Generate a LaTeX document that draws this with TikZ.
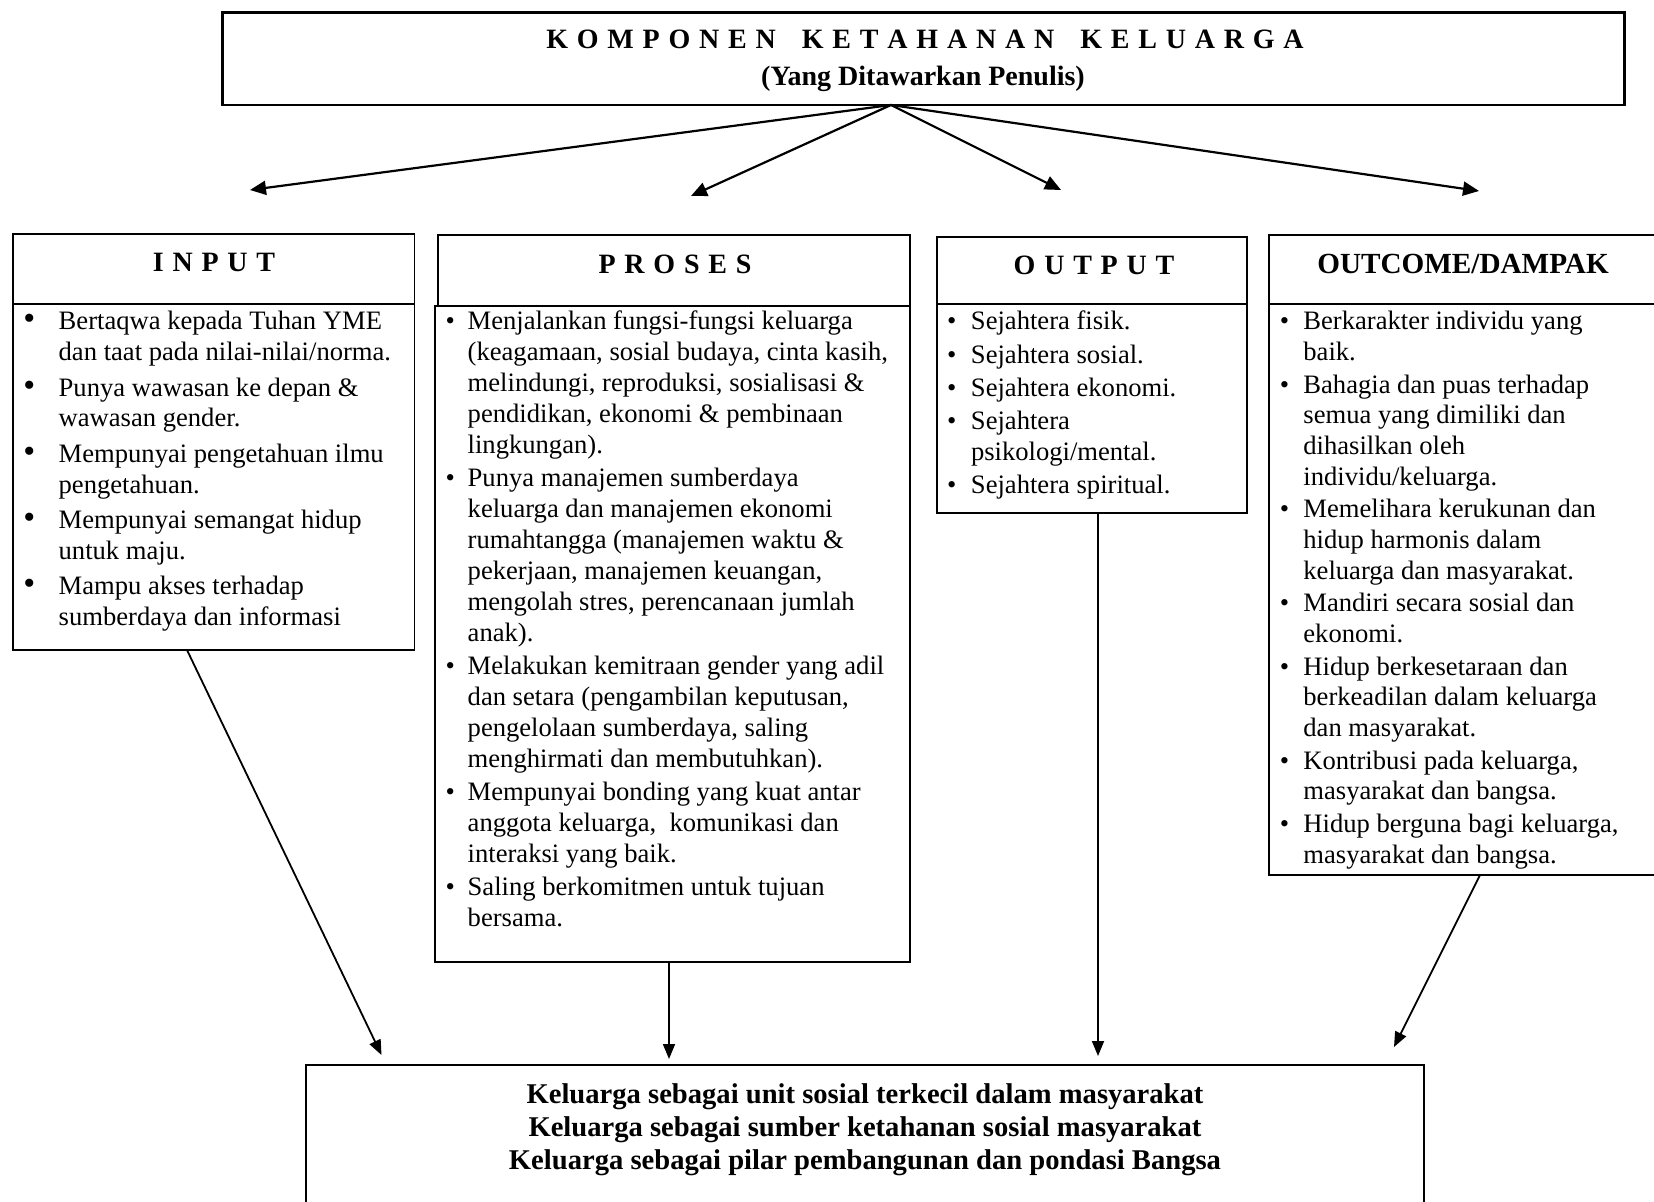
\documentclass[tikz,border=0pt]{standalone}
\usepackage{fontspec}
\setmainfont{Liberation Serif}
\usetikzlibrary{arrows.meta}
\newcommand{\gp}{\hspace{4.4pt}}
\newcommand{\wg}{\hspace{13pt}}
\newcommand{\bigbul}{{\fontsize{17}{15}\selectfont\textbullet}}
\begin{document}
\begin{tikzpicture}[x=0.5pt,y=-0.5pt,
  box/.style={draw, line width=0.9pt, inner sep=0pt, outer sep=0pt, anchor=north west},
  hd/.style={font=\fontsize{14}{16}\selectfont\bfseries, inner sep=0pt},
  body/.style={anchor=base west, inner sep=0pt, font=\fontsize{13.3}{15.4}\selectfont},
  arr/.style={line width=1.1pt, -{Triangle[length=8pt,width=7pt]}},
  arrb/.style={line width=0.9pt, -{Triangle[length=7.5pt,width=6pt]}}]
\useasboundingbox (0,0) rectangle (1654,1202);

% boxes
\node[box, line width=1.3pt, minimum width=700.9pt, minimum height=46.2pt] (top) at (222.6,12.7) {};
\node[box, minimum width=200.75pt, minimum height=35pt] (inh) at (13,234) {};
\node[box, minimum width=200.75pt, minimum height=173pt] (inb) at (13,304) {};
\node[box, minimum width=236.15pt, minimum height=35.5pt] (prh) at (437.7,235) {};
\node[box, minimum width=237.7pt, minimum height=328pt] (prb) at (434.6,306) {};
\node[box, minimum width=155pt, minimum height=33.5pt] (ouh) at (937,237) {};
\node[box, minimum width=155pt, minimum height=104.5pt] (oub) at (937,304) {};
\node[box, minimum width=200pt, minimum height=34.5pt] (och) at (1269,235) {};
\node[box, minimum width=200pt, minimum height=285.5pt] (ocb) at (1269,304) {};
\node[box, line width=1.4pt, minimum width=559pt, minimum height=76pt] (bot) at (306,1065) {};

% titles
\node[hd] (t1) at (925,39) {K\gp O\gp M\gp P\gp O\gp N\gp E\gp N\wg K\gp E\gp T\gp A\gp H\gp A\gp N\gp A\gp N\wg K\gp E\gp L\gp U\gp A\gp R\gp G\gp A};
\node[hd] (t2) at (923,79) {(Yang Ditawarkan Penulis)};
\node[hd] (inht) at (214,262) {I\gp N\gp P\gp U\gp T};
\node[hd] (prht) at (675,264) {P\gp R\gp O\gp S\gp E\gp S};
\node[hd] (ouht) at (1094,265) {O\gp U\gp T\gp P\gp U\gp T};
\node[hd, font=\fontsize{14.6}{16}\selectfont\bfseries] (ocht) at (1463,264) {OUTCOME/DAMPAK};

% bodies
\node[body] (int) at (23,330) {\begin{tabular}[t]{@{}p{17.65pt}@{}l@{}}
\bigbul & Bertaqwa kepada Tuhan YME\\
 & dan taat pada nilai-nilai/norma.\\[2.3pt]
\bigbul & Punya wawasan ke depan \&\\
 & wawasan gender.\\[2.3pt]
\bigbul & Mempunyai pengetahuan ilmu\\
 & pengetahuan.\\[2.3pt]
\bigbul & Mempunyai semangat hidup\\
 & untuk maju.\\[2.3pt]
\bigbul & Mampu akses terhadap\\
 & sumberdaya dan informasi
\end{tabular}};

\node[body, font=\fontsize{13.3}{15.5}\selectfont] (prt) at (445.3,330) {\begin{tabular}[t]{@{}p{11pt}@{}l@{}}
\textbullet & Menjalankan fungsi-fungsi keluarga\\
 & (keagamaan, sosial budaya, cinta kasih,\\
 & melindungi, reproduksi, sosialisasi \&\\
 & pendidikan, ekonomi \& pembinaan\\
 & lingkungan).\\[1pt]
\textbullet & Punya manajemen sumberdaya\\
 & keluarga dan manajemen ekonomi\\
 & rumahtangga (manajemen waktu \&\\
 & pekerjaan, manajemen keuangan,\\
 & mengolah stres, perencanaan jumlah\\
 & anak).\\[1pt]
\textbullet & Melakukan kemitraan gender yang adil\\
 & dan setara (pengambilan keputusan,\\
 & pengelolaan sumberdaya, saling\\
 & menghirmati dan membutuhkan).\\[1pt]
\textbullet & Mempunyai bonding yang kuat antar\\
 & anggota keluarga,\ \ komunikasi dan\\
 & interaksi yang baik.\\[1pt]
\textbullet & Saling berkomitmen untuk tujuan\\
 & bersama.
\end{tabular}};

\node[body] (out) at (946.7,330) {\begin{tabular}[t]{@{}p{11.95pt}@{}l@{}}
\textbullet & Sejahtera fisik.\\[1.2pt]
\textbullet & Sejahtera sosial.\\[1.2pt]
\textbullet & Sejahtera ekonomi.\\[1.2pt]
\textbullet & Sejahtera\\
 & psikologi/mental.\\[1.2pt]
\textbullet & Sejahtera spiritual.
\end{tabular}};

\node[body] (oct) at (1279.5,330) {\begin{tabular}[t]{@{}p{11.75pt}@{}l@{}}
\textbullet & Berkarakter individu yang\\
 & baik.\\[0.8pt]
\textbullet & Bahagia dan puas terhadap\\
 & semua yang dimiliki dan\\
 & dihasilkan oleh\\
 & individu/keluarga.\\[0.8pt]
\textbullet & Memelihara kerukunan dan\\
 & hidup harmonis dalam\\
 & keluarga dan masyarakat.\\[0.8pt]
\textbullet & Mandiri secara sosial dan\\
 & ekonomi.\\[0.8pt]
\textbullet & Hidup berkesetaraan dan\\
 & berkeadilan dalam keluarga\\
 & dan masyarakat.\\[0.8pt]
\textbullet & Kontribusi pada keluarga,\\
 & masyarakat dan bangsa.\\[0.8pt]
\textbullet & Hidup berguna bagi keluarga,\\
 & masyarakat dan bangsa.
\end{tabular}};

\node[hd, align=center, font=\fontsize{14.3}{16.6}\selectfont\bfseries] (bott) at (865,1130) {Keluarga sebagai unit sosial terkecil dalam masyarakat\\
Keluarga sebagai sumber ketahanan sosial masyarakat\\
Keluarga sebagai pilar pembangunan dan pondasi Bangsa};

% connector points
\coordinate (o) at (891,105);
\coordinate (a1) at (250,190);
\coordinate (a2) at (691,196);
\coordinate (a3) at (1061,190);
\coordinate (a4) at (1479,191);
\coordinate (s1) at (187,650);
\coordinate (e1) at (381.5,1055);
\coordinate (s2) at (669,962);
\coordinate (e2) at (669,1059);
\coordinate (s3) at (1098,513);
\coordinate (e3) at (1098,1056);
\coordinate (s4) at (1480,875);
\coordinate (e4) at (1394,1047);

\draw[arr] (o) -- (a1);
\draw[arr] (o) -- (a2);
\draw[arr] (o) -- (a3);
\draw[arr] (o) -- (a4);
\draw[arrb] (s1) -- (e1);
\draw[arrb] (s2) -- (e2);
\draw[arrb] (s3) -- (e3);
\draw[arrb] (s4) -- (e4);
\end{tikzpicture}
\end{document}
